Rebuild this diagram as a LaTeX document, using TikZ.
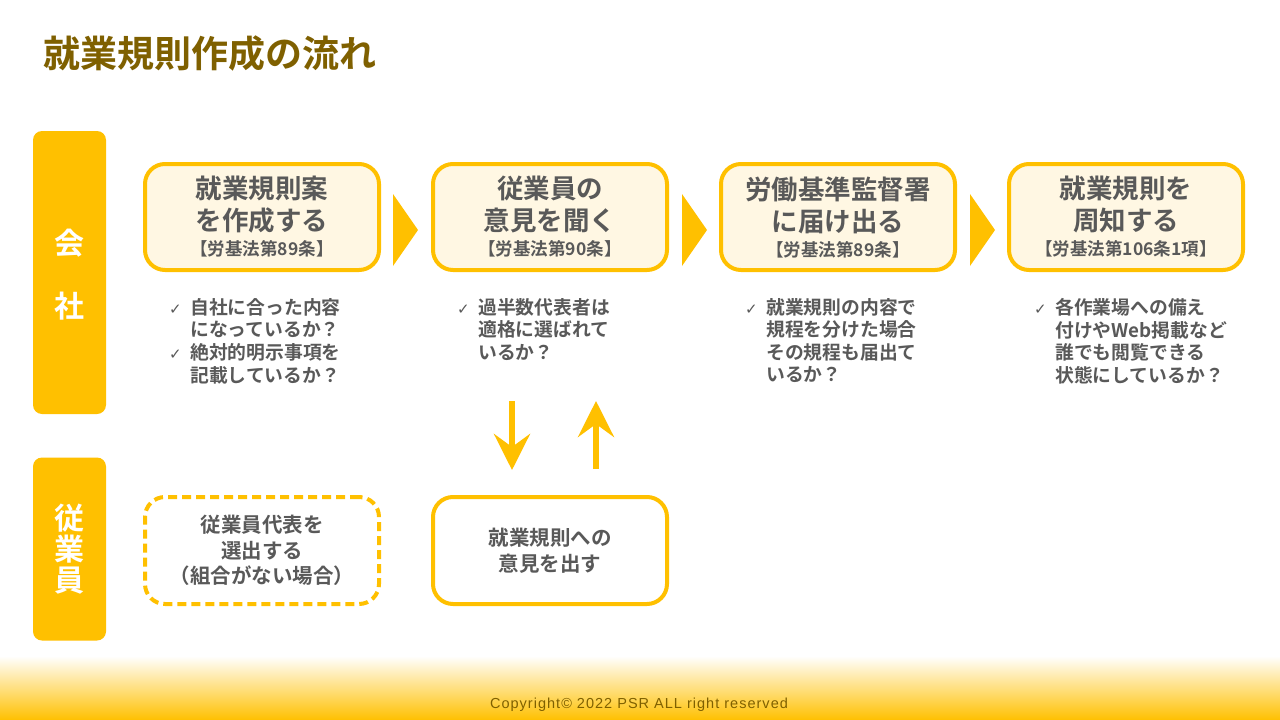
\documentclass[tikz,border=0pt]{standalone}
\usepackage{fontspec}
\setmainfont{Noto Sans CJK JP}
\newfontfamily\jpb{Noto Sans CJK JP Bold}
\newfontfamily\djv{DejaVu Sans}
\newfontfamily\copyf[LetterSpace=7]{Liberation Sans}
\usetikzlibrary{arrows.meta}
\definecolor{gold}{HTML}{FFC000}
\definecolor{cream}{HTML}{FFF7E3}
\definecolor{titlec}{HTML}{7F6000}
\definecolor{txt}{HTML}{595959}
\newcommand{\chk}{{\djv\fontsize{15}{15}\selectfont ✓}}
\newcommand{\law}{\fontsize{17.5}{22}\selectfont}
\tikzset{
  lane/.style={fill=gold, rounded corners=9pt, inner sep=0pt, text=white, align=center,
    minimum width=73pt},
  lanetext/.style={inner sep=0pt, text=white, align=center},
  topbox/.style={draw=gold, line width=4pt, fill=cream, rounded corners=20pt,
    minimum width=234pt, minimum height=106pt, inner sep=0pt, align=center, text=txt,
    font=\jpb\fontsize{26.5}{32}\selectfont},
  botbox/.style={draw=gold, line width=4pt, fill=white, rounded corners=20pt,
    minimum width=234pt, minimum height=107pt, inner sep=0pt, align=center, text=txt,
    font=\jpb\fontsize{20.5}{25.5}\selectfont},
  checks/.style={anchor=north west, inner sep=0pt, text=txt, font=\jpb},
  chevron/.style={fill=gold},
  varrow/.style={draw=gold, line width=6pt, -{Stealth[length=36pt, width=36pt, inset=13pt]}},
}
\newcommand{\clist}[1]{\fontsize{18.8}{22.5}\selectfont\begin{tabular}{@{}p{21pt}@{}l@{}}#1\end{tabular}}
\begin{document}
\begin{tikzpicture}[x=1pt,y=-1pt]
\useasboundingbox (0,0) rectangle (1280,720);
\fill[white] (0,0) rectangle (1280,720);
% footer gradient
\shade[top color=white, bottom color=gold] (0,656) rectangle (1280,720);
\node[text=titlec, inner sep=0pt, anchor=west, font=\jpb\fontsize{37}{40}\selectfont] (title) at (43,53) {就業規則作成の流れ};

% lanes
\node[lane, minimum height=283pt] (lane1) at (69.5,272.5) {};
\node[lanetext, font=\jpb\fontsize{30}{63}\selectfont] (lane1t) at (69.5,275) {会\\社};
\node[lane, minimum height=183pt, font=\jpb\fontsize{30}{31}\selectfont] (lane2) at (69.5,549) {従\\業\\員};

% top boxes
\node[topbox] (s1) at (262,217) {就業規則案\\ を作成する\\[-7pt] \law 【労基法第89条】};
\node[topbox] (s2) at (550,217) {従業員の\\ 意見を聞く\\[-7pt] \law 【労基法第90条】};
\node[topbox] (s3) at (838,217) {労働基準監督署\\ に届け出る\\[-7pt] \law 【労基法第89条】};
\node[topbox] (s4) at (1126,217) {就業規則を\\ 周知する\\[-7pt] \law 【労基法第106条1項】};

% chevrons
\foreach \x in {393,682,970}{
  \fill[chevron] (\x,194) -- (\x+25,230) -- (\x,266) -- cycle;
}

% check lists
\node[checks] (c1) at (169,298) {\clist{\chk & 自社に合った内容\\ & になっているか？\\ \chk & 絶対的明示事項を\\ & 記載しているか？}};
\node[checks] (c2) at (457,298) {\clist{\chk & 過半数代表者は\\ & 適格に選ばれて\\ & いるか？}};
\node[checks] (c3) at (745,298) {\clist{\chk & 就業規則の内容で\\ & 規程を分けた場合\\ & その規程も届出て\\ & いるか？}};
\node[checks] (c4) at (1034,298) {\clist{\chk & 各作業場への備え\\ & 付けやWeb掲載など\\ & 誰でも閲覧できる\\ & 状態にしているか？}};

% bottom boxes
\node[botbox, dashed, dash pattern=on 9pt off 5pt] (e1) at (262,550.5) {従業員代表を\\ 選出する\\ （組合がない場合）};
\node[botbox] (e2) at (550,550.5) {就業規則への\\ 意見を出す};

% vertical arrows
\coordinate (d1) at (512,401);
\coordinate (d2) at (512,470);
\coordinate (u1) at (596,469);
\coordinate (u2) at (596,401);
\draw[varrow] (d1) -- (d2);
\draw[varrow] (u1) -- (u2);

% footer
\node[text=titlec, inner sep=0pt, font=\copyf\fontsize{14.5}{16}\selectfont] (copy) at (639,705) {Copyright© 2022 PSR ALL right reserved};
\end{tikzpicture}
\end{document}
